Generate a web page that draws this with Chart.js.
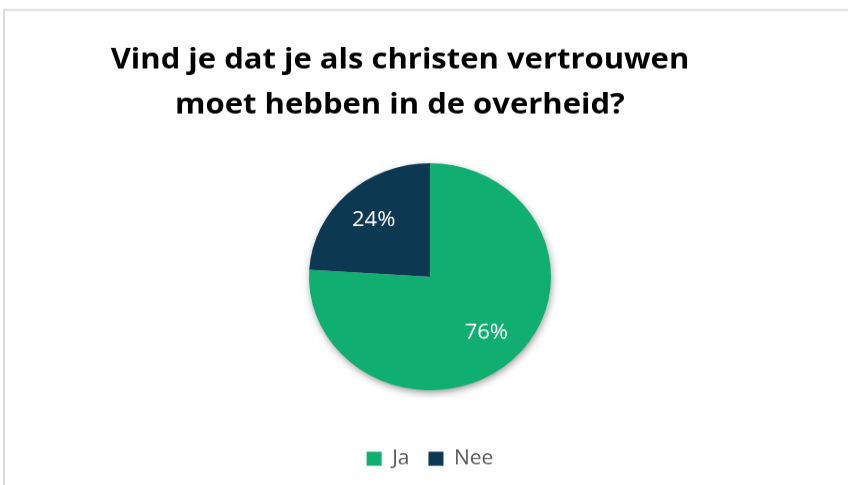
<!DOCTYPE html>
<html>
<head>
<meta charset="utf-8">
<script src="https://cdn.jsdelivr.net/npm/chart.js@4"></script>
<style>
  html, body { margin: 0; padding: 0; background: #fff; overflow: hidden; }
  #c { position: absolute; left: 0; top: 0; }
</style>
</head>
<body>
<canvas id="c" width="848" height="517" style="width:848px;height:485px;"></canvas>
<script>
// data
const titleLines = ["Vind je dat je als christen vertrouwen", "moet hebben in de overheid?"];
const categories = ["Ja", "Nee"];
const shares = [76, 24];
const sliceColors = ["#10ae70", "#0c3852"];

// light grey frame (left and top edge only are visible in the crop)
const frameLines = {
  id: 'frameLines',
  beforeDraw(chart) {
    const ctx = chart.ctx;
    ctx.save();
    ctx.fillStyle = '#d9d9d9';
    ctx.fillRect(3, 9.6, 2, chart.height);
    ctx.fillRect(3, 9.6, chart.width, 2.1);
    ctx.restore();
  }
};

// soft shadow under the pie
const pieShadow = {
  id: 'pieShadow',
  beforeDatasetsDraw(chart) {
    const arc = chart.getDatasetMeta(0).data[0];
    if (!arc) return;
    const p = arc.getProps(['x', 'y', 'outerRadius'], true);
    const ctx = chart.ctx;
    ctx.save();
    ctx.shadowColor = 'rgba(0,0,0,0.45)';
    ctx.shadowBlur = 8;
    ctx.shadowOffsetX = 1;
    ctx.shadowOffsetY = 3;
    ctx.fillStyle = '#fff';
    ctx.beginPath();
    ctx.arc(p.x, p.y, p.outerRadius - 1, 0, Math.PI * 2);
    ctx.fill();
    ctx.restore();
  }
};

// percentage labels inside slices
const sliceLabels = {
  id: 'sliceLabels',
  afterDatasetsDraw(chart) {
    const ctx = chart.ctx;
    ctx.save();
    ctx.fillStyle = '#ffffff';
    ctx.font = '22px "Open Sans"';
    ctx.textAlign = 'center';
    ctx.textBaseline = 'middle';
    chart.getDatasetMeta(0).data.forEach((arc, i) => {
      const p = arc.getProps(['x', 'y', 'startAngle', 'endAngle', 'outerRadius'], true);
      const mid = (p.startAngle + p.endAngle) / 2;
      const r = p.outerRadius * 0.68;
      ctx.fillText(shares[i] + '%', p.x + Math.cos(mid) * r, p.y + Math.sin(mid) * r);
    });
    ctx.restore();
  }
};

// two-line title, sits a little left of the pie centre like the original
const titleText = {
  id: 'titleText',
  afterDraw(chart) {
    const ctx = chart.ctx;
    ctx.save();
    ctx.fillStyle = '#000000';
    ctx.font = 'bold 31px "Open Sans"';
    ctx.textAlign = 'center';
    ctx.textBaseline = 'alphabetic';
    ctx.fillText(titleLines[0], 400, 73);
    ctx.fillText(titleLines[1], 400, 120.5);
    ctx.restore();
  }
};

new Chart(document.getElementById('c'), {
  type: 'pie',
  data: {
    labels: categories,
    datasets: [{
      data: shares,
      backgroundColor: sliceColors,
      borderWidth: 0,
      hoverOffset: 0
    }]
  },
  options: {
    responsive: false,
    devicePixelRatio: 1,
    animation: false,
    layout: { padding: { left: 309, right: 297, top: 130.5, bottom: 7.5 } },
    plugins: {
      title: { display: false },
      tooltip: { enabled: false },
      legend: {
        position: 'bottom',
        labels: {
          color: '#595959',
          font: { family: 'Open Sans', size: 21 },
          boxWidth: 15,
          boxHeight: 15,
          padding: 19
        }
      }
    }
  },
  plugins: [frameLines, pieShadow, sliceLabels, titleText]
});
</script>
</body>
</html>
